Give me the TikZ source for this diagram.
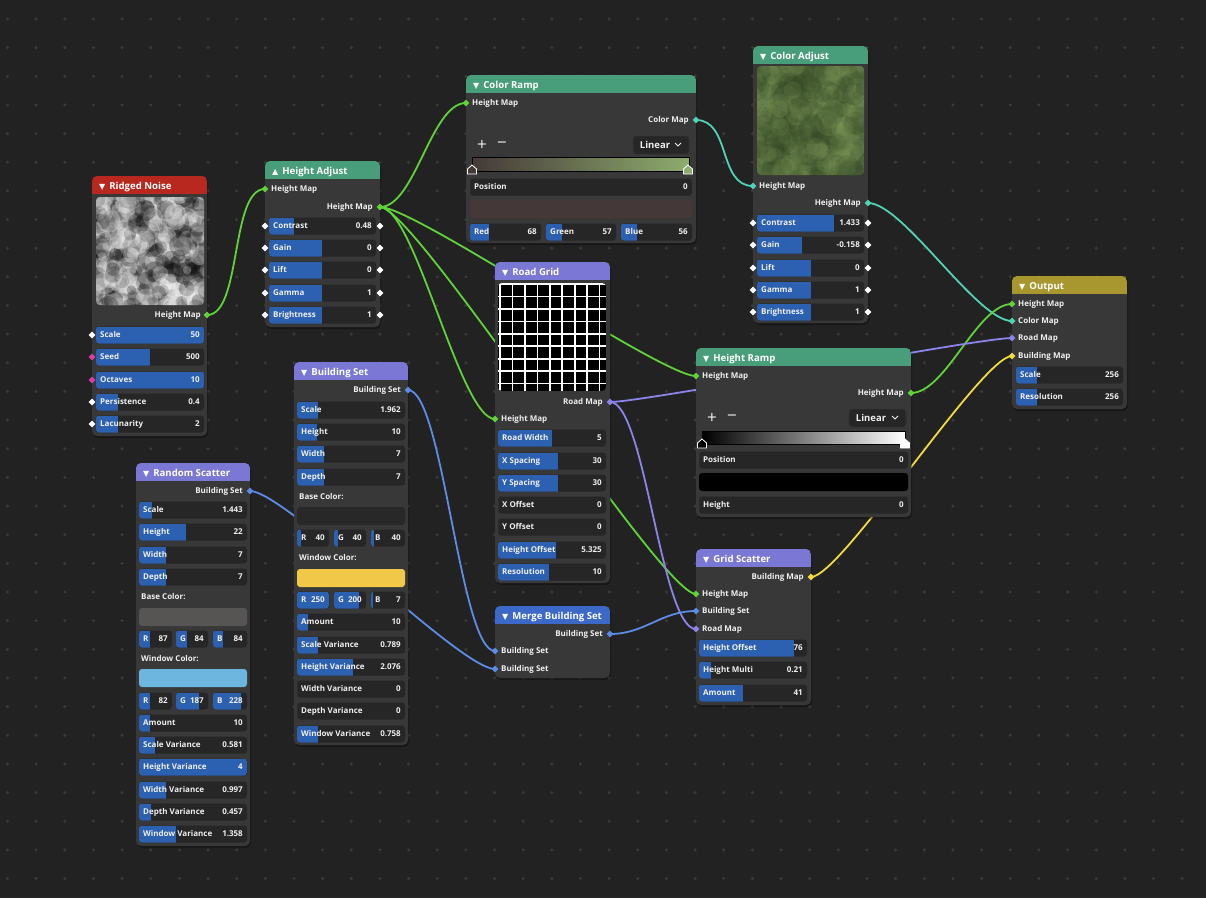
\documentclass[tikz,border=0pt]{standalone}
\usepackage{fontspec}
\setmainfont{Open Sans}
\newfontfamily\symfont{DejaVu Sans}
\usetikzlibrary{shapes.geometric}
\definecolor{canvas}{RGB}{34,34,34}
\definecolor{griddot}{RGB}{58,58,58}
\definecolor{nodebody}{RGB}{56,56,56}
\definecolor{rowbg}{RGB}{38,38,38}
\definecolor{slider}{RGB}{44,96,176}
\definecolor{txt}{RGB}{240,240,240}
\definecolor{hdrred}{RGB}{184,40,30}
\definecolor{hdrgreen}{RGB}{72,158,122}
\definecolor{hdrpurple}{RGB}{122,120,212}
\definecolor{hdrblue}{RGB}{60,104,200}
\definecolor{hdrgold}{RGB}{168,150,46}
\definecolor{wgreen}{RGB}{96,210,58}
\definecolor{wteal}{RGB}{82,210,180}
\definecolor{wblue}{RGB}{92,140,230}
\definecolor{wpurple}{RGB}{140,132,235}
\definecolor{wyellow}{RGB}{240,220,60}
\definecolor{wpink}{RGB}{220,60,170}
\definecolor{crleft}{RGB}{68,57,56}
\definecolor{crright}{RGB}{143,172,110}
\definecolor{cadark}{RGB}{48,68,34}
\definecolor{calight}{RGB}{130,156,92}
\definecolor{bsbase}{RGB}{40,40,40}
\definecolor{bswin}{RGB}{242,200,72}
\definecolor{rsbase}{RGB}{87,84,84}
\definecolor{rswin}{RGB}{108,182,224}
\pgfdeclarelayer{canvaslayer}
\pgfdeclarelayer{wirelayer}
\pgfsetlayers{canvaslayer,wirelayer,main}

\newcommand{\tridown}{{\symfont\fontsize{8}{8}\selectfont ▼}\hspace{4pt}}
\newcommand{\triup}{{\symfont\fontsize{8}{8}\selectfont ▲}\hspace{4pt}}
% box with header: name, x, y, w, h, header colour, title
\newcommand{\nodebox}[7]{%
  \fill[black,opacity=0.3,rounded corners=5pt] (#2+1,#3+2) rectangle ++(#4,#5);
  \fill[nodebody,rounded corners=5pt] (#2,#3) rectangle ++(#4,#5);
  \begin{scope}
    \clip[rounded corners=5pt] (#2,#3) rectangle ++(#4,#5);
    \fill[#6] (#2,#3) rectangle ++(#4,18);
  \end{scope}
  \node[hdrtext,anchor=west] (#1) at (#2+7,#3+9.5) {#7};
}
% slider row: name, x, y, w, fill end, label, value
\newcommand{\slrow}[7]{%
  \fill[rowbg,rounded corners=3pt] (#2,#3-8.5) rectangle ++(#4,17);
  \begin{scope}
    \clip[rounded corners=3pt] (#2,#3-8.5) rectangle ++(#4,17);
    \fill[slider] (#2,#3-8.5) rectangle (#5,#3+8.5);
  \end{scope}
  \node[lbl,anchor=west] (#1) at (#2+4,#3) {#6};
  \node[lbl,anchor=east] (#1v) at (#2+#4-4,#3) {#7};
}
% colour stop: x, y, fill
\newcommand{\colstop}[3]{%
  \filldraw[draw=white,line width=0.8pt,fill=#3] (#1-4.5,#2+4) -- (#1-4.5,#2-1) -- (#1,#2-5) -- (#1+4.5,#2-1) -- (#1+4.5,#2+4) -- cycle;
}

\begin{document}
\begin{tikzpicture}[x=1pt,y=-1pt,
  lbl/.style={font=\fontsize{8}{8}\selectfont\bfseries, text=txt, inner sep=0pt, text height=5.8pt, text depth=0pt},
  hdrtext/.style={font=\fontsize{9.6}{10}\selectfont\bfseries, text=white, inner sep=0pt, text height=7pt, text depth=0pt},
  port/.style={diamond, minimum size=7pt, inner sep=0pt, fill=#1},
  port/.default=white,
  wire/.style={line width=1.8pt},
  pm/.style={font=\fontsize{17}{17}\selectfont, text=txt, inner sep=0pt},
  dropbox/.style={draw=black!60!gray, fill=rowbg, line width=0.8pt, rounded corners=3pt}]
\useasboundingbox (0,0) rectangle (1206,898);
\begin{pgfonlayer}{canvaslayer}
\fill[canvas] (0,0) rectangle (1206,898);
\foreach \i in {0,...,41}
  \foreach \j in {0,...,31}
    \fill[griddot] (7.5+28.65*\i,19+28.65*\j) circle (1.7pt);
\end{pgfonlayer}

% Ridged Noise
\nodebox{RN}{92}{176}{115}{260}{hdrred}{\tridown Ridged Noise}
\begin{scope}
  \clip[rounded corners=4pt] (96,197) rectangle (204,305);
  \fill[black!45] (96,197) rectangle (204,305);
  \pgfmathsetseed{11}
  \foreach \k in {1,...,420}{
    \pgfmathsetmacro{\nx}{90+120*rnd}
    \pgfmathsetmacro{\ny}{191+120*rnd}
    \pgfmathsetmacro{\nr}{3+9*rnd}
    \pgfmathtruncatemacro{\ng}{(rnd>0.45)*96+2}
    \fill[white!\ng!black,opacity=0.26] (\nx,\ny) circle (\nr pt);
  }
\end{scope}
\node[lbl,anchor=east] (RNoutl) at (201,315) {Height Map};
\node[port=wgreen] (RNout) at (207,315) {};
\slrow{RNscale}{96}{335}{108}{204}{Scale}{50}
\slrow{RNseed}{96}{357}{108}{150}{Seed}{500}
\slrow{RNoct}{96}{380}{108}{204}{Octaves}{10}
\slrow{RNpers}{96}{402}{108}{118}{Persistence}{0.4}
\slrow{RNlac}{96}{424}{108}{118}{Lacunarity}{2}
\node[port] (RNp1) at (92,335) {};
\node[port=wpink] (RNp2) at (92,357) {};
\node[port=wpink] (RNp3) at (92,380) {};
\node[port] (RNp4) at (92,402) {};
\node[port] (RNp5) at (92,424) {};

% Height Adjust
\nodebox{HA}{265}{161}{115}{166}{hdrgreen}{\triup Height Adjust}
\node[lbl,anchor=west] (HAinl) at (271,189) {Height Map};
\node[port=wgreen] (HAin) at (265,189) {};
\node[lbl,anchor=east] (HAoutl) at (373,207) {Height Map};
\node[port=wgreen] (HAout) at (380,207) {};
\slrow{HAcon}{269}{226}{107}{294}{Contrast}{0.48}
\slrow{HAgain}{269}{248}{107}{322}{Gain}{0}
\slrow{HAlift}{269}{270}{107}{322}{Lift}{0}
\slrow{HAgam}{269}{293}{107}{322}{Gamma}{1}
\slrow{HAbri}{269}{315}{107}{322}{Brightness}{1}
\foreach \y/\n in {226/1,248/2,270/3,293/4,315/5}{
  \node[port] (HAl\n) at (265,\y) {};
  \node[port] (HAr\n) at (380,\y) {};
}

% Color Ramp
\nodebox{CR}{466}{75}{230}{168}{hdrgreen}{\tridown Color Ramp}
\node[lbl,anchor=west] (CRinl) at (472,103) {Height Map};
\node[port=wgreen] (CRin) at (466,103) {};
\node[lbl,anchor=east] (CRoutl) at (689,120) {Color Map};
\node[port=wteal] (CRout) at (696,120) {};
\node[pm] (CRplus) at (482,145) {+};
\node[pm] (CRminus) at (502,145) {−};
\draw[dropbox] (633,136) rectangle (689,154);
\node[lbl,font=\fontsize{9.5}{10}\selectfont\bfseries,text height=7pt] (CRlin) at (655,145) {Linear};
\draw[txt,line width=0.9pt] (675,143) -- (678,146) -- (681,143);
\shade[left color=crleft,right color=crright] (472,157) rectangle (689,171);
\draw[black,line width=0.6pt] (472,157) rectangle (689,171);
\colstop{472}{170}{crleft}
\colstop{688}{170}{crright}
\slrow{CRpos}{470}{187}{222}{470}{Position}{0}
\fill[crleft,rounded corners=3pt] (470,200) rectangle (692,218);
\slrow{CRred}{470}{232}{71}{489}{Red}{68}
\slrow{CRgreen}{546}{232}{70}{562}{Green}{57}
\slrow{CRblue}{621}{232}{71}{637}{Blue}{56}

% Color Adjust
\nodebox{CA}{753}{46}{115}{277}{hdrgreen}{\tridown Color Adjust}
\begin{scope}
  \clip[rounded corners=4pt] (757,66) rectangle (864,175);
  \fill[calight!55!cadark] (757,66) rectangle (864,175);
  \pgfmathsetseed{5}
  \foreach \k in {1,...,420}{
    \pgfmathsetmacro{\nx}{751+119*rnd}
    \pgfmathsetmacro{\ny}{60+121*rnd}
    \pgfmathsetmacro{\nr}{4+10*rnd}
    \pgfmathtruncatemacro{\ng}{(rnd>0.5)*85+5}
    \fill[calight!\ng!cadark,opacity=0.2] (\nx,\ny) circle (\nr pt);
  }
\end{scope}
\node[lbl,anchor=west] (CAinl) at (759,186) {Height Map};
\node[port=wteal] (CAin) at (753,186) {};
\node[lbl,anchor=east] (CAoutl) at (861,203) {Height Map};
\node[port=wteal] (CAout) at (868,203) {};
\slrow{CAcon}{757}{223}{107}{834}{Contrast}{1.433}
\slrow{CAgain}{757}{245}{107}{802}{Gain}{-0.158}
\slrow{CAlift}{757}{268}{107}{811}{Lift}{0}
\slrow{CAgam}{757}{290}{107}{811}{Gamma}{1}
\slrow{CAbri}{757}{312}{107}{811}{Brightness}{1}
\foreach \y/\n in {223/1,245/2,268/3,290/4,312/5}{
  \node[port] (CAl\n) at (753,\y) {};
  \node[port] (CAr\n) at (868,\y) {};
}

% Road Grid
\nodebox{RG}{495}{262}{115}{321}{hdrpurple}{\tridown Road Grid}
\begin{scope}
  \clip[rounded corners=4pt] (498,283) rectangle (606,391);
  \fill[black] (498,283) rectangle (606,391);
  \foreach \k in {0,...,8}{
    \draw[white,line width=1.6pt] (500+12.45*\k,283) -- (500+12.45*\k,391);
    \draw[white,line width=1.6pt] (498,284+12.45*\k) -- (606,284+12.45*\k);
  }
\end{scope}
\node[lbl,anchor=east] (RGoutl) at (603,402) {Road Map};
\node[port=wpurple] (RGout) at (610,402) {};
\node[lbl,anchor=west] (RGinl) at (501,419) {Height Map};
\node[port=wgreen] (RGin) at (495,419) {};
\slrow{RGrw}{498}{438}{108}{552}{Road Width}{5}
\slrow{RGxs}{498}{461}{108}{558}{X Spacing}{30}
\slrow{RGys}{498}{483}{108}{558}{Y Spacing}{30}
\slrow{RGxo}{498}{505}{108}{498}{X Offset}{0}
\slrow{RGyo}{498}{527}{108}{498}{Y Offset}{0}
\slrow{RGho}{498}{550}{108}{556}{Height Offset}{5.325}
\slrow{RGres}{498}{572}{108}{549}{Resolution}{10}

% Height Ramp
\nodebox{HR}{696}{348}{215}{169}{hdrgreen}{\tridown Height Ramp}
\node[lbl,anchor=west] (HRinl) at (702,376) {Height Map};
\node[port=wgreen] (HRin) at (696,376) {};
\node[lbl,anchor=east] (HRoutl) at (904,393) {Height Map};
\node[port=wgreen] (HRout) at (911,393) {};
\node[pm] (HRplus) at (712,418) {+};
\node[pm] (HRminus) at (732,418) {−};
\draw[dropbox] (849,409) rectangle (906,427);
\node[lbl,font=\fontsize{9.5}{10}\selectfont\bfseries,text height=7pt] (HRlin) at (871,418) {Linear};
\draw[txt,line width=0.9pt] (892,416) -- (895,419) -- (898,416);
\shade[left color=black,right color=white] (702,431) rectangle (905,444);
\draw[black,line width=0.6pt] (702,431) rectangle (905,444);
\colstop{702}{444}{black}
\colstop{905}{444}{white}
\slrow{HRpos}{699}{460}{209}{699}{Position}{0}
\fill[black,rounded corners=3pt] (699,473) rectangle (908,491);
\slrow{HRh}{699}{505}{209}{699}{Height}{0}

% Grid Scatter
\nodebox{GS}{696}{549}{115}{156}{hdrpurple}{\tridown Grid Scatter}
\node[lbl,anchor=east] (GSoutl) at (804,577) {Building Map};
\node[port=wyellow] (GSout) at (811,577) {};
\node[lbl,anchor=west] (GShml) at (702,594) {Height Map};
\node[port=wgreen] (GShm) at (696,594) {};
\node[lbl,anchor=west] (GSbsl) at (702,611) {Building Set};
\node[port=wblue] (GSbs) at (696,611) {};
\node[lbl,anchor=west] (GSrml) at (702,629) {Road Map};
\node[port=wpurple] (GSrm) at (696,629) {};
\slrow{GSho}{699}{648}{108}{794}{Height Offset}{76}
\slrow{GShmu}{699}{670}{108}{711}{Height Multi}{0.21}
\slrow{GSam}{699}{693}{108}{743}{Amount}{41}

% Merge Building Set
\nodebox{MB}{495}{606}{115}{72}{hdrblue}{\tridown Merge Building Set}
\node[lbl,anchor=east] (MBoutl) at (603,634) {Building Set};
\node[port=wblue] (MBout) at (610,634) {};
\node[lbl,anchor=west] (MBin1l) at (501,651) {Building Set};
\node[port=wblue] (MBin1) at (495,651) {};
\node[lbl,anchor=west] (MBin2l) at (501,669) {Building Set};
\node[port=wblue] (MBin2) at (495,669) {};

% Building Set
\nodebox{BS}{294}{362}{114}{383}{hdrpurple}{\tridown Building Set}
\node[lbl,anchor=east] (BSoutl) at (401,390) {Building Set};
\node[port=wblue] (BSout) at (408,390) {};
\slrow{BSsc}{297}{410}{108}{318}{Scale}{1.962}
\slrow{BSh}{297}{432}{108}{317}{Height}{10}
\slrow{BSw}{297}{454}{108}{324}{Width}{7}
\slrow{BSd}{297}{477}{108}{324}{Depth}{7}
\node[lbl,anchor=west] (BSbase) at (299,497) {Base Color:};
\fill[bsbase,rounded corners=3pt] (297,507) rectangle (405,525);
\slrow{BSr1}{297}{538}{32}{301}{R}{40}
\slrow{BSg1}{334}{538}{32}{338}{G}{40}
\slrow{BSb1}{371}{538}{34}{374}{B}{40}
\node[lbl,anchor=west] (BSwin) at (299,558) {Window Color:};
\fill[bswin,rounded corners=3pt] (297,569) rectangle (405,587);
\slrow{BSr2}{297}{600}{32}{329}{R}{250}
\slrow{BSg2}{334}{600}{32}{359}{G}{200}
\slrow{BSb2}{371}{600}{34}{373}{B}{7}
\slrow{BSam}{297}{622}{108}{308}{Amount}{10}
\slrow{BSsv}{297}{645}{108}{318}{Scale Variance}{0.789}
\slrow{BShv}{297}{667}{108}{353}{Height Variance}{2.076}
\slrow{BSwv}{297}{689}{108}{297}{Width Variance}{0}
\slrow{BSdv}{297}{711}{108}{297}{Depth Variance}{0}
\slrow{BSwinv}{297}{734}{108}{318}{Window Variance}{0.758}

% Random Scatter
\nodebox{RS}{136}{463}{114}{383}{hdrpurple}{\tridown Random Scatter}
\node[lbl,anchor=east] (RSoutl) at (243,491) {Building Set};
\node[port=wblue] (RSout) at (250,491) {};
\slrow{RSsc}{139}{510}{108}{152}{Scale}{1.443}
\slrow{RSh}{139}{532}{108}{186}{Height}{22}
\slrow{RSw}{139}{555}{108}{166}{Width}{7}
\slrow{RSd}{139}{577}{108}{166}{Depth}{7}
\node[lbl,anchor=west] (RSbase) at (141,597) {Base Color:};
\fill[rsbase,rounded corners=3pt] (139,608) rectangle (247,626);
\slrow{RSr1}{139}{639}{33}{150}{R}{87}
\slrow{RSg1}{176}{639}{32}{187}{G}{84}
\slrow{RSb1}{213}{639}{34}{223}{B}{84}
\node[lbl,anchor=west] (RSwin) at (141,659) {Window Color:};
\fill[rswin,rounded corners=3pt] (139,669) rectangle (247,687);
\slrow{RSr2}{139}{701}{33}{150}{R}{82}
\slrow{RSg2}{176}{701}{32}{199}{G}{187}
\slrow{RSb2}{213}{701}{34}{241}{B}{228}
\slrow{RSam}{139}{723}{108}{150}{Amount}{10}
\slrow{RSsv}{139}{745}{108}{155}{Scale Variance}{0.581}
\slrow{RShv}{139}{767}{108}{247}{Height Variance}{4}
\slrow{RSwv}{139}{790}{108}{166}{Width Variance}{0.997}
\slrow{RSdv}{139}{812}{108}{151}{Depth Variance}{0.457}
\slrow{RSwinv}{139}{834}{108}{176}{Window Variance}{1.358}

% Output
\nodebox{OUT}{1012}{276}{115}{133}{hdrgold}{\tridown Output}
\node[lbl,anchor=west] (OUThml) at (1018,304) {Height Map};
\node[port=wgreen] (OUThm) at (1012,304) {};
\node[lbl,anchor=west] (OUTcml) at (1018,321) {Color Map};
\node[port=wteal] (OUTcm) at (1012,321) {};
\node[lbl,anchor=west] (OUTrml) at (1018,338) {Road Map};
\node[port=wpurple] (OUTrm) at (1012,338) {};
\node[lbl,anchor=west] (OUTbml) at (1018,356) {Building Map};
\node[port=wyellow] (OUTbm) at (1012,356) {};
\slrow{OUTsc}{1016}{375}{107}{1037}{Scale}{256}
\slrow{OUTres}{1016}{397}{107}{1037}{Resolution}{256}

% wires
\begin{pgfonlayer}{wirelayer}
\draw[wire,wgreen] (RNout.center) .. controls +(35,0) and +(-35,0) .. (HAin.center);
\draw[wire,wgreen] (HAout.center) .. controls +(35,0) and +(-35,0) .. (CRin.center);
\draw[wire,wgreen] (HAout.center) .. controls +(35,0) and +(-35,0) .. (HRin.center);
\draw[wire,wgreen] (HAout.center) .. controls +(35,0) and +(-35,0) .. (RGin.center);
\draw[wire,wgreen] (HAout.center) .. controls +(35,0) and +(-35,0) .. (GShm.center);
\draw[wire,wteal] (CRout.center) .. controls +(35,0) and +(-35,0) .. (CAin.center);
\draw[wire,wteal] (CAout.center) .. controls +(35,0) and +(-35,0) .. (OUTcm.center);
\draw[wire,wgreen] (HRout.center) .. controls +(35,0) and +(-35,0) .. (OUThm.center);
\draw[wire,wpurple] (RGout.center) .. controls +(35,0) and +(-35,0) .. (OUTrm.center);
\draw[wire,wpurple] (RGout.center) .. controls +(35,0) and +(-35,0) .. (GSrm.center);
\draw[wire,wyellow] (GSout.center) .. controls +(30,0) and +(-30,0) .. (OUTbm.center);
\draw[wire,wblue] (BSout.center) .. controls +(35,0) and +(-35,0) .. (MBin1.center);
\draw[wire,wblue] (RSout.center) .. controls +(35,0) and +(-35,0) .. (MBin2.center);
\draw[wire,wblue] (MBout.center) .. controls +(35,0) and +(-35,0) .. (GSbs.center);
\end{pgfonlayer}
\end{tikzpicture}
\end{document}
